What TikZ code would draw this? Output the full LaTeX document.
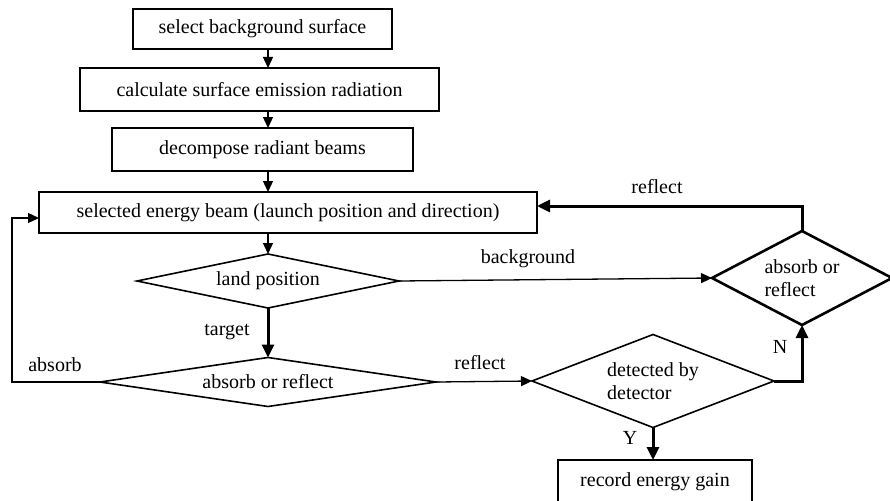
\documentclass[tikz,border=0pt]{standalone}
\usepackage{fontspec}
\setmainfont{Liberation Serif}
\usetikzlibrary{arrows.meta,shapes.geometric,positioning}
\tikzset{
	basic/.style     = {draw, font=\fontsize{20}{23}\selectfont, inner sep=0pt,
		outer sep=0pt, line width=1.3pt},
	box/.style       = {basic, rectangle},
	choice/.style    = {basic, diamond, align=left, line width=1.6pt},
	link/.style      = {-{Triangle[length=11pt,width=10pt]}, line width=1.3pt},
	bold link/.style = {-{Triangle[length=13pt,width=12pt]}, line width=3pt},
	tag/.style       = {font=\fontsize{20}{23}\selectfont, inner sep=0pt}
}
\begin{document}
\begin{tikzpicture}[x=1pt, y=-1pt]
\clip (0,0) rectangle (890,500);

% the straight column of steps
\coordinate (axis) at (268,0);
\node[box, minimum width=259pt, minimum height=40pt] (sel) at (262.5,29) {select background surface};
\node[box, minimum width=359pt, minimum height=43pt] (calc) at (259.5,89.5) {calculate surface emission radiation};
\node[box, minimum width=301pt, minimum height=43pt] (split) at (262.5,149.5) {decompose radiant beams};
\node[box, minimum width=498pt, minimum height=41pt] (beam) at (288,212.5) {selected energy beam (launch position and direction)};

% the decisions
\node[choice, minimum width=262pt, minimum height=54pt, aspect=4.85] (land) at (268,281) {land position};
\node[choice, minimum width=336pt, minimum height=49pt, aspect=6.86] (hit) at (268,382) {absorb or reflect};
\node[choice, minimum width=180pt, minimum height=94pt, aspect=1.91, line width=2.6pt] (bg) at (802,278) {absorb or\\reflect};
\node[choice, minimum width=242pt, minimum height=93pt, aspect=2.6] (det) at (653,381) {detected by\\detector};
\node[box, minimum width=194pt, minimum height=44pt, anchor=north] (gain) at (655,460) {record energy gain};

% connectors
\draw[link] (sel.south -| axis) -- (calc.north -| axis);
\draw[link] (calc.south -| axis) -- (split.north -| axis);
\draw[link] (split.south -| axis) -- (beam.north -| axis);
\draw[link] (beam.south -| axis) -- (land.north);
\draw[bold link] (land.south) -- (hit.north);
\draw[link] (land.east) -- (bg.west);
\draw[bold link] (bg.north) |- ([yshift=6.5pt]beam.east);
\coordinate (back) at (12,300);
\draw[link] (hit.west) -| (back) |- ([yshift=-5.5pt]beam.west);
\draw[link] (hit.east) -- (det.west);
\draw[bold link] (det.east) -| (bg.south);
\draw[bold link] (det.south) -- (det.south |- gain.north);

% labels
\node[tag] (l1) at (227,332) {target};
\node[tag] (l2) at (528,259) {background};
\node[tag] (l3) at (657,187) {reflect};
\node[tag] (l4) at (55,365) {absorb};
\node[tag] (l5) at (480,363) {reflect};
\node[tag] (l6) at (780,347) {N};
\node[tag] (l7) at (630,438) {Y};
\end{tikzpicture}
\end{document}
